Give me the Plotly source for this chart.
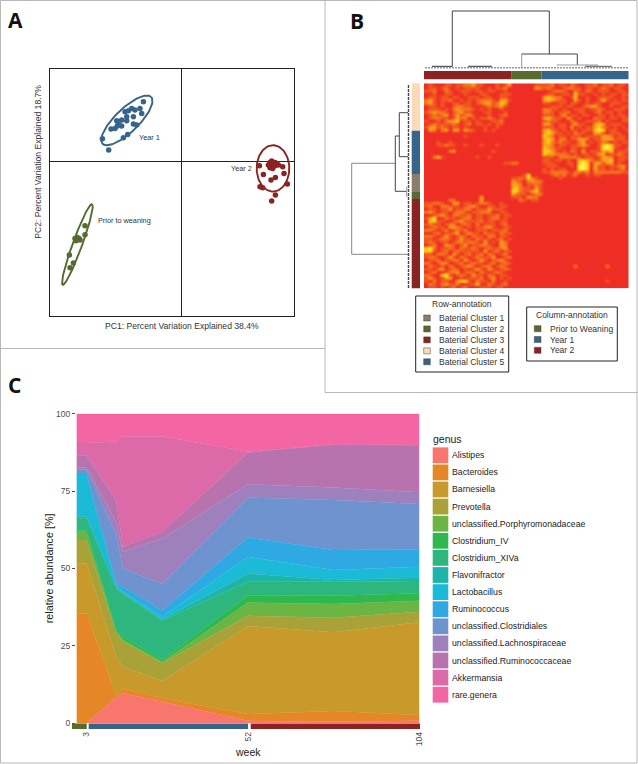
import numpy as np
import plotly.graph_objects as go

W, H = 638, 764

# Panel A: PCA scores
year1_pc1 = [-3.83, -4.17, -4.0, -4.67, -5.0, -5.33, -5.67, -5.5, -4.83, -6.0, -6.5, -6.33, -6.67, -7.07, -6.0, -4.83, -4.5, -5.4, -5.83, -7.93, -7.3, -6.43, -5.5]
year1_pc2 = [6.0, 5.33, 4.83, 5.17, 5.33, 5.1, 5.0, 4.5, 4.5, 4.17, 4.1, 3.77, 3.33, 3.27, 3.57, 3.77, 3.67, 2.73, 2.4, 2.3, 1.17, 3.57, 4.1]
year2_pc1 = [8.83, 9.0, 9.33, 9.17, 9.5, 8.67, 9.0, 9.33, 8.83, 9.1, 9.67, 10.1, 7.77, 10.23, 8.17, 9.37, 8.93, 10.57, 7.83, 8.1, 9.37, 9.0]
year2_pc2 = [-0.07, 0.07, -0.07, -0.23, -0.17, -0.33, -0.4, -0.4, -0.6, -0.67, -0.33, -0.5, -0.4, -1.17, -1.27, -1.57, -1.83, -2.23, -2.5, -2.6, -3.33, -3.93]
prior_pc1 = [-9.67, -9.67, -10.43, -10.67, -10.23, -10.57, -10.17, -11.23, -10.83, -11.17]
prior_pc2 = [-6.4, -7.3, -7.57, -7.67, -7.7, -7.9, -7.83, -9.33, -10.13, -10.6]

# ellipses: centre x, centre y, semi major, semi minor, angle in degrees
year1_ellipse = (-5.48, 4.13, 3.37, 1.17, 44)
year2_ellipse = (9.13, -0.67, 2.32, 1.63, 90)
prior_ellipse = (-10.43, -8.27, 4.3, 0.47, 70)

BLUE = "#36648B"
RED = "#8B2323"
GREEN = "#556B2F"
BROWN = "#8B7D6B"
PEACH = "#FFDAB9"

# Panel B: heatmap, one string per row, colour level 0-5, columns Year 2 | Prior | Year 1
heat_rows = [
    "0100011011223110001013 00000011 1120110210011201120110",
    "0110120010111100101120 00000032 1210012211011012101100",
    "1120021001110110110010 0 0012210021021011100110",
    "0010011000100011000111 0 0110011041100101011011",
    "0110110110011101100110 0 3432200140010011110010",
    "2310112001010122210331 0 3432110031010014101011",
    "2310100110110123312430 0 1100110110010110011100",
    "0110100122110001212310 0 0011101100123310010011",
    "0111010232221010100100 0 2211010011101121001110",
    "1232210123110001100010 0 2210112001100120110100",
    "0121230131231000100120 0 1110130110110011010110",
    "0122110132201011210100 0 3421103101000211011011",
    "1001023340110100011200 0 1211000210011120100011",
    "0121111210120110101100 0 3310110131100343011100",
    "1331210110100001001000 0 1110110301011342101010",
    "0320230330321001010000 0 3421010110111454011001",
    "0 0 3431101021100331011100",
    "0000000000100000000000 0 4320110111011113320110",
    "0 0 3430220113320113331110",
    "0001001000000000000000 0 3421211002301012101011",
    "0001121100100010001000 0 3320110112320014541100",
    "0 0 4321100110100015541001",
    "0000002300000000010000 0 4431010210301113340111",
    "0 0 4332221010110133011210",
    "0024100000000100100000 0 1110222221011013320111",
    "0 0 1101101004432113340110",
    "0000000000000000000011 22000000 1110001104540331330100",
    "0 0 0111000105540311011230",
    "0 0 1010110005540311010120",
    "0 0 1122221022120222222211",
    "0 00015000 0012120120010110000000",
    "0 11214210 0000100000000000000000",
    "0 32102322",
    "0 33201121",
    "0 34211031",
    "0 54211341",
    "0 32110122",
    "0000000000000030000000 11103220",
    "0000002200000030000000 00210110",
    "1122100330110122100100",
    "1200221110123100110110",
    "0110113011220111311100",
    "2310110122101122200110",
    "0012310221120110112011",
    "1350021101220110122010",
    "0441100123111120110110",
    "1211012201210201110120",
    "0121103321010112310011",
    "2210120121200111011120",
    "0012011230131102110211",
    "2210131012102110220110",
    "1101221013110211101201",
    "1210110122122103010320",
    "0120032101301122100320",
    "4520112102112101211230",
    "4410120121111103012011",
    "1102210310120120210120",
    "1220013102101211130012",
    "0112011220310131012310",
    "2101320012012110120121",
    "0210102101231012201210 0 0000000020000000200000",
    "1102301210101310310121",
    "0120012230121021012100",
    "2100451012103110210110",
    "1310133001011120130101",
    "1020110034510211020010 0 0000000000000000100000",
    "0210231120011400210120",
    "0110101201200011101100",
]
heat_scale = [[0, "#EE2E24"], [0.2, "#F2551F"], [0.4, "#F5791D"], [0.6, "#F9A01B"], [0.8, "#FCC917"], [1, "#FFF34D"]]

row_labels = ["Baterial Cluster 1", "Baterial Cluster 2", "Baterial Cluster 3", "Baterial Cluster 4", "Baterial Cluster 5"]
row_colors = [BROWN, GREEN, RED, PEACH, BLUE]
col_labels = ["Prior to Weaning", "Year 1", "Year 2"]
col_colors = [GREEN, BLUE, RED]

# Panel C: relative abundance
weeks = [0, 3, 12, 14, 26, 52, 78, 104]
genus = ["Alistipes", "Bacteroides", "Barnesiella", "Prevotella", "unclassified.Porphyromonadaceae",
         "Clostridium_IV", "Clostridium_XIVa", "Flavonifractor", "Lactobacillus", "Ruminococcus",
         "unclassified.Clostridiales", "unclassified.Lachnospiraceae", "unclassified.Ruminococcaceae",
         "Akkermansia", "rare.genera"]
genus_colors = ["#F8766D", "#E58726", "#C79A2B", "#A9A238", "#6AB544", "#2FB84D", "#2DB67D", "#1CB6A8",
                "#1BBBD8", "#2FA9E4", "#6E93CE", "#9E80BC", "#B873AF", "#DC69A8", "#F465A4"]
alistipes = [0, 0, 8.3, 9.7, 7.0, 0.8, 0.5, 0.8]
bacteroides = [35.5, 35.5, 0.6, 1.6, 1.1, 2.2, 3.5, 1.9]
barnesiella = [16.2, 16.2, 12.6, 7.0, 5.6, 28.4, 25.4, 29.9]
prevotella = [7.5, 7.5, 7.6, 8.2, 5.7, 3.3, 4.7, 3.4]
porphyromonadaceae = [2.7, 2.7, 0.5, 0.4, 0.4, 4.3, 4.4, 3.6]
clostridium_iv = [0.3, 0.3, 0.5, 1.1, 0.7, 2.4, 2.7, 2.4]
clostridium_xiva = [4.0, 4.0, 13.5, 13.8, 12.7, 4.3, 4.5, 4.0]
flavonifractor = [0.5, 0.5, 0.2, 0.4, 0.3, 2.7, 0.6, 1.0]
lactobacillus = [13.5, 13.5, 0.6, 0.3, 0.9, 5.4, 3.2, 3.6]
ruminococcus = [0.3, 0.3, 0.6, 1.6, 2.0, 6.2, 6.5, 5.6]
clostridiales = [1.5, 1.5, 15.8, 5.9, 8.6, 12.9, 16.1, 14.6]
lachnospiraceae = [0.6, 0.6, 4.2, 5.4, 14.7, 4.3, 4.1, 3.8]
ruminococcaceae = [3.8, 3.8, 7.0, 1.6, 2.2, 10.3, 13.8, 15.2]
akkermansia = [4.1, 4.1, 19.0, 35.6, 30.7, 0.2, 0.1, 0.1]
rare_genera = [9.5, 9.5, 9.0, 7.4, 7.4, 12.3, 9.9, 10.1]
abundance = [alistipes, bacteroides, barnesiella, prevotella, porphyromonadaceae, clostridium_iv,
             clostridium_xiva, flavonifractor, lactobacillus, ruminococcus, clostridiales,
             lachnospiraceae, ruminococcaceae, akkermansia, rare_genera]

FONT = "Liberation Sans"


# pixel position to paper fraction
def fx(x):
    return x / W


def fy(y):
    return 1 - y / H


def note(x, y, text, size=9, color="#333333", anchor="left", angle=0, family=FONT):
    fig.add_annotation(xref="paper", yref="paper", x=fx(x), y=fy(y), text=text, showarrow=False,
                       xanchor=anchor, yanchor="middle", textangle=angle, borderpad=0,
                       font=dict(size=size, color=color, family=family))


def rect(x0, y0, x1, y1, fill, line=None, width=1):
    fig.add_shape(type="rect", xref="paper", yref="paper", x0=fx(x0), x1=fx(x1), y0=fy(y0), y1=fy(y1),
                  fillcolor=fill, line=dict(color=line, width=width) if line else dict(width=0))


def seg(x0, y0, x1, y1, color="#444444", width=1, dash=None):
    fig.add_shape(type="line", xref="paper", yref="paper", x0=fx(x0), x1=fx(x1), y0=fy(y0), y1=fy(y1),
                  line=dict(color=color, width=width, dash=dash))


def ellipse(cx, cy, a, b, angle):
    t = np.radians(np.arange(0, 361, 4))
    r = np.radians(angle)
    return (cx + a * np.cos(t) * np.cos(r) - b * np.sin(t) * np.sin(r),
            cy + a * np.cos(t) * np.sin(r) + b * np.sin(t) * np.cos(r))


fig = go.Figure()

# Panel A
groups = [(year1_pc1, year1_pc2, year1_ellipse, BLUE, "Year 1"),
          (year2_pc1, year2_pc2, year2_ellipse, RED, "Year 2"),
          (prior_pc1, prior_pc2, prior_ellipse, GREEN, "Prior to weaning")]
for pc1, pc2, ell, color, name in groups:
    ex, ey = ellipse(*ell)
    fig.add_trace(go.Scatter(x=ex, y=ey, mode="lines", line=dict(color=color, width=1.9), name=name,
                             xaxis="x", yaxis="y"))
    fig.add_trace(go.Scatter(x=pc1, y=pc2, mode="markers", marker=dict(color=color, size=5.5), name=name,
                             xaxis="x", yaxis="y"))

# Panel B heatmap
heat = []
for row in heat_rows:
    parts = row.split(" ") + ["0", "0"]
    cells = parts[0].ljust(22, "0") + parts[1].ljust(8, "0") + parts[2].ljust(22, "0")
    heat.append([int(c) for c in cells])
fig.add_trace(go.Heatmap(z=heat, colorscale=heat_scale, zmin=0, zmax=5, showscale=False, zsmooth="best",
                         xaxis="x2", yaxis="y2"))

# Panel C
for name, values, color in zip(genus, abundance, genus_colors):
    fig.add_trace(go.Scatter(x=weeks, y=values, name=name, mode="lines", line=dict(color=color, width=0.5),
                             stackgroup="one", fillcolor=color, xaxis="x3", yaxis="y3"))

fig.update_layout(
    width=W, height=H, autosize=False, showlegend=False, paper_bgcolor="white", plot_bgcolor="white",
    margin=dict(l=0, r=0, t=0, b=0, autoexpand=False), font=dict(family=FONT),
    xaxis=dict(domain=[fx(50), fx(294)], range=[-13.17, 11.23], anchor="y", showticklabels=False, ticks="",
               showgrid=False, showline=True, mirror=True, linecolor="#222222", linewidth=1.3,
               zeroline=True, zerolinecolor="#222222", zerolinewidth=1.3),
    yaxis=dict(domain=[fy(316), fy(69)], range=[-15.43, 9.27], anchor="x", showticklabels=False, ticks="",
               showgrid=False, showline=True, mirror=True, linecolor="#222222", linewidth=1.3,
               zeroline=True, zerolinecolor="#222222", zerolinewidth=1.3),
    xaxis2=dict(domain=[fx(424), fx(628.5)], anchor="y2", visible=False),
    yaxis2=dict(domain=[fy(288.3), fy(83.3)], anchor="x2", visible=False, autorange="reversed"),
    xaxis3=dict(domain=[fx(76), fx(419.5)], range=[-0.2, 104], anchor="y3", tickmode="array",
                tickvals=[3, 52, 104], ticktext=["3", "52", "104"], tickangle=-90, ticks="", showgrid=False,
                zeroline=False, showline=False, ticklabelstandoff=6,
                tickfont=dict(size=8.5, color="#4D4D4D")),
    yaxis3=dict(domain=[fy(723.3), fy(413.7)], range=[0, 100], anchor="x3", tickmode="array",
                tickvals=[0, 25, 50, 75, 100], ticks="outside", ticklen=3, tickcolor="#4D4D4D", tickwidth=1,
                showgrid=False, zeroline=False, showline=False, tickfont=dict(size=8.5, color="#4D4D4D")),
)

# panel frames
frame = "#B8B8B8"
rect(0.5, 0.5, 637, 763, "rgba(0,0,0,0)", frame)
seg(0, 348.5, 325, 348.5, frame)
seg(325, 0, 325, 392.5, frame)
seg(325, 392.5, 638, 392.5, frame)

note(15, 20, "<b>A</b>", 21, "#111111", "center", family="Open Sans")
note(357, 21, "<b>B</b>", 21, "#111111", "center", family="Open Sans")
note(14, 385, "<b>C</b>", 21, "#111111", "center", family="Open Sans")

# Panel A text
note(181.7, 325.7, "PC1: Percent Variation Explained 38.4%", 8.6, "#333333", "center")
note(38, 161.7, "PC2: Percent Variation Explained 18.7%", 8.6, "#333333", "center", angle=-90)
note(138, 138, "Year 1", 7.3)
note(230, 169, "Year 2", 7.3)
note(97, 220.6, "Prior to weaning", 7.3)

# Panel B annotation bars
rect(424, 71, 511.7, 79.3, RED)
rect(511.7, 71, 541.7, 79.3, GREEN)
rect(541.7, 71, 628.5, 79.3, BLUE)
rect(411.7, 83.3, 420, 130.7, PEACH)
rect(411.7, 130.7, 420, 174, BLUE)
rect(411.7, 174, 420, 192, BROWN)
rect(411.7, 192, 420, 199, GREEN)
rect(411.7, 199, 420, 288.3, RED)

# column dendrogram
seg(452.3, 11, 549.3, 11)
seg(452.3, 11, 452.3, 66.7)
seg(549.3, 11, 549.3, 54)
seg(521.7, 54, 577.3, 54)
seg(521.7, 54, 521.7, 67.3, "#999999")
seg(577.3, 54, 577.3, 65)
seg(556.7, 65, 598.3, 65, "#999999", 1)
seg(425, 67.8, 628, 67.8, "#666666", 1, "2px,1px")
seg(432, 66.3, 452, 66.3, "#333333", 1)
seg(468, 66.3, 492, 66.3, "#333333", 1)
seg(585, 66.3, 612, 66.3, "#555555", 1)

# row dendrogram
seg(351.7, 163.3, 351.7, 254.3, "#888888")
seg(351.7, 163.3, 395.3, 163.3, "#888888")
seg(351.7, 254.3, 408.3, 254.3, "#888888")
seg(395.3, 136, 395.3, 191.3)
seg(395.3, 136, 399.3, 136)
seg(399.3, 112.7, 399.3, 156.7)
seg(399.3, 112.7, 408, 112.7)
seg(399.3, 156.7, 408, 156.7)
seg(395.3, 191.3, 406.7, 191.3)
seg(406.7, 187, 406.7, 197, "#999999")
seg(408.5, 85, 408.5, 288, "#444444", 1.4, "3px,1px")

# Panel B legends
rect(415.7, 296, 508.7, 372, "white", "#222222")
note(462, 304, "Row-annotation", 8.5, "#333333", "center")
for i, (label, color) in enumerate(zip(row_labels, row_colors)):
    y = 318 + i * 10.95
    rect(423.7, y - 3, 430.3, y + 3, color, "#444444", 0.5)
    note(438.3, y, label, 8.5)
rect(526.7, 307, 617.3, 361, "white", "#222222")
note(571.7, 315, "Column-annotation", 8.5, "#333333", "center")
for i, (label, color) in enumerate(zip(col_labels, col_colors)):
    y = 328.7 + i * 10.8
    rect(534.3, y - 3, 541, y + 3, color, "#444444", 0.5)
    note(549.3, y, label, 8.5)


# Panel C age bar under the axis
def week_px(w):
    return 86.7 + (w - 3) * 3.3


rect(72, 723.5, week_px(3), 729, GREEN)
rect(week_px(3.6), 723.5, week_px(51.9), 729, BLUE)
rect(week_px(52.7), 723.5, week_px(104), 729, RED)

note(49.3, 568, "relative abundance [%]", 10.8, "#222222", "center", angle=-90)
note(247.7, 751.7, "week", 10.5, "#222222", "center")

# Panel C legend
note(431.7, 439.3, "genus", 10.5, "#222222")
for i, (name, color) in enumerate(zip(genus, genus_colors)):
    y = 455.3 + i * 17.1
    rect(432.7, y - 7.9, 448.3, y + 7.9, color)
    note(451, y, name, 8.7, "#222222")

fig.write_html("out.html", config=dict(displayModeBar=False), post_script="document.body.style.margin='0';")
